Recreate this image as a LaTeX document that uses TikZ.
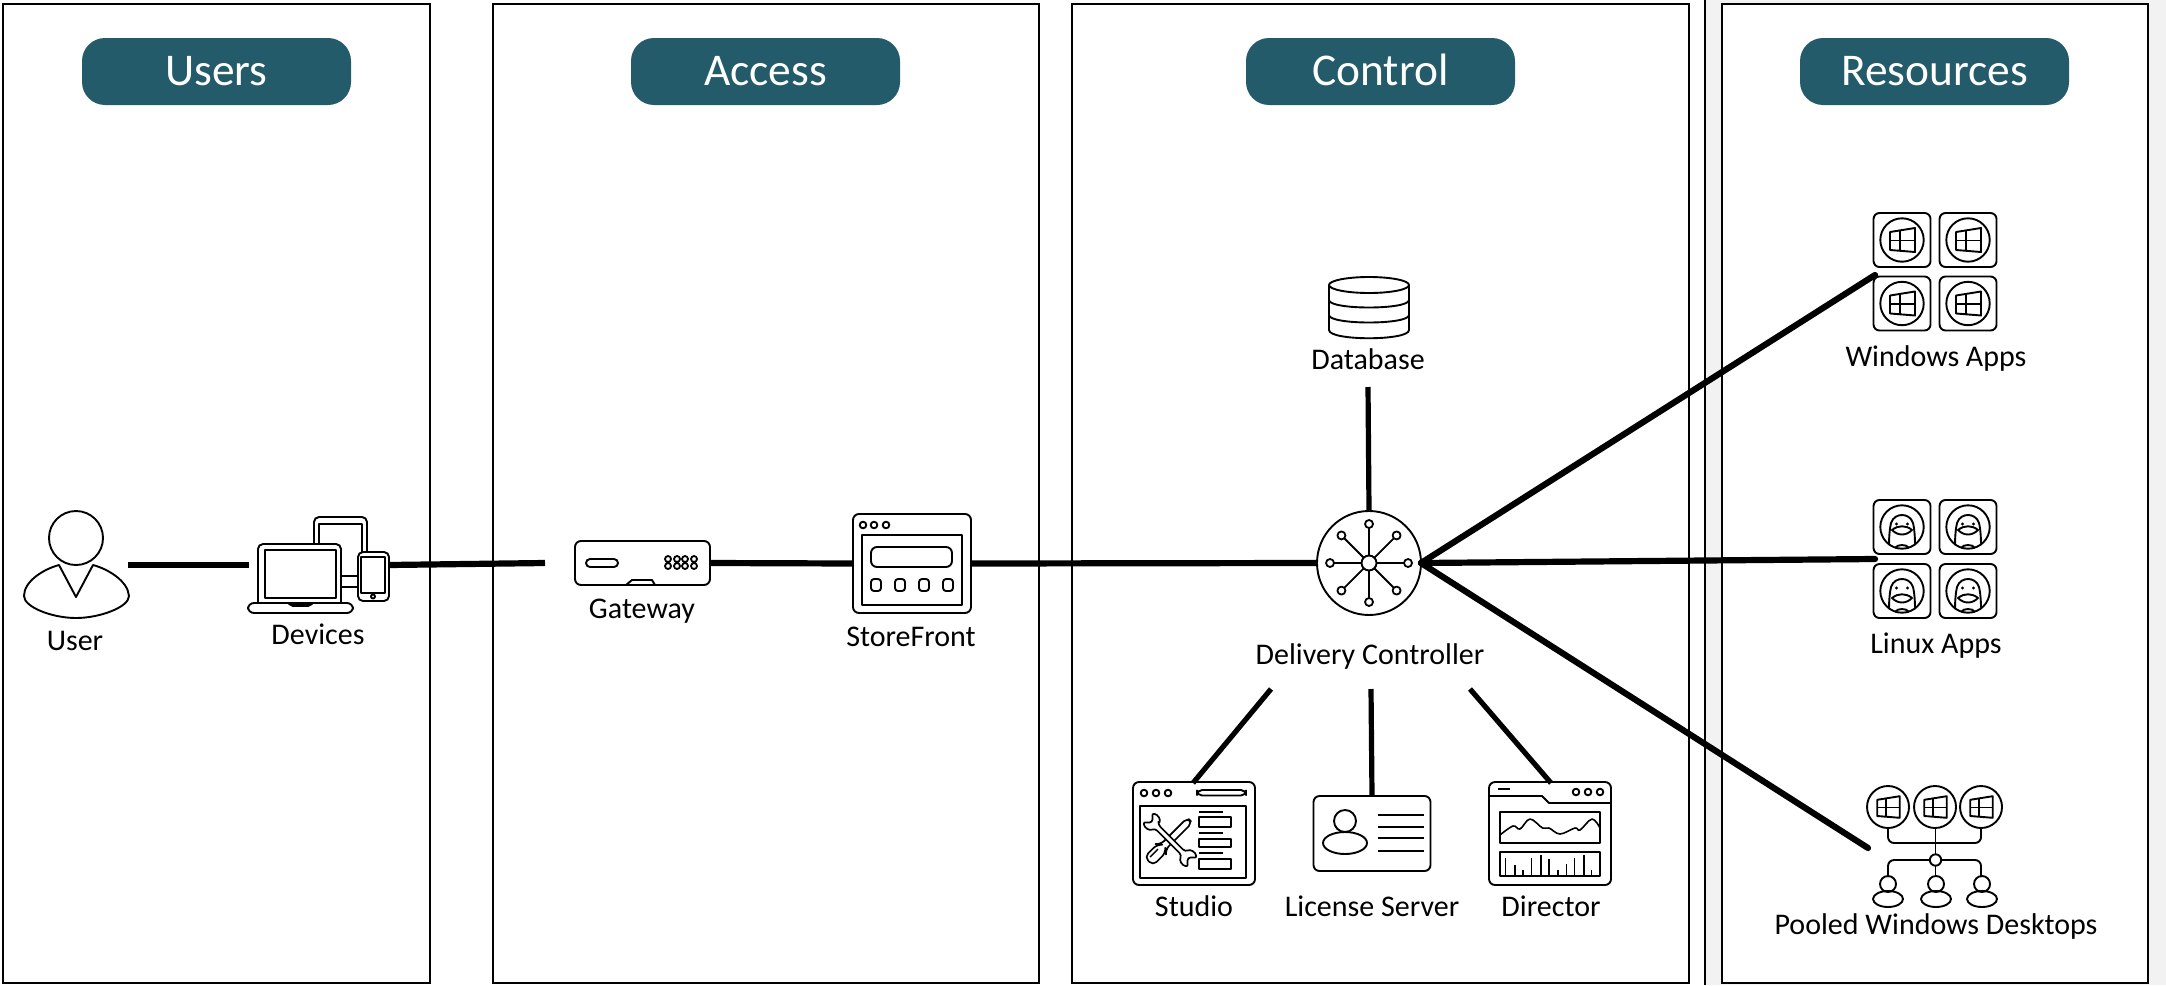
\documentclass[tikz,border=0pt]{standalone}
\usepackage{fontspec}
\setmainfont{Carlito}
\definecolor{teal1}{HTML}{245B6A}
\definecolor{gray1}{HTML}{F2F2F2}
\tikzset{
  panel/.style={draw=black,fill=white,line width=.8pt},
  pill/.style={fill=teal1,text=white,rounded corners=11.5pt,minimum width=134.5pt,minimum height=33.5pt,inner sep=0pt,text height=14.4pt,text depth=0pt,font=\fontsize{22.7}{26}\selectfont},
  lab/.style={inner sep=0pt,text height=9.5pt,text depth=0pt,font=\fontsize{15}{18}\selectfont,text=black},
  ic/.style={draw=black,line width=.95pt,line join=round},
  hit/.style 2 args={inner sep=0pt,outer sep=0pt,minimum width=#1*.5pt,minimum height=#2*.5pt},
  link/.style={draw=black,line width=3.1pt},
  linkb/.style={draw=black,line width=2.6pt},
  pics/winlogo/.style={code={
    \draw[ic] (-12,-8) -- (13,-12) -- (13,12) -- (-12,10) -- cycle;
    \draw[ic] (-2,-10) -- (-2,11) (-12,.5) -- (13,.5);
  }},
  pics/wintile/.style={code={
    \draw[ic,rounded corners=3pt] (-28.5,-27) rectangle (28.5,27);
    \draw[ic] (0,0) circle (21.7);
    \pic at (0,0) {winlogo};
  }},
  pics/tux/.style={code={
    \draw[ic,rounded corners=3pt] (-28.5,-27) rectangle (28.5,27);
    \draw[ic] (0,0) circle (21.7);
    \draw[ic] (-13,18) .. controls (-13,8) and (-12,0) .. (-11,-4) .. controls (-9,-10) and (-4,-12) .. (0,-12) .. controls (4,-12) and (9,-10) .. (11,-4) .. controls (12,0) and (13,8) .. (13,18);
    \fill (-5.5,-3) circle (1.7) (5.5,-3) circle (1.7);
    \draw[ic] (-10,#1) .. controls (-4,#1-5) and (4,#1-5) .. (10,#1) .. controls (4,#1+6) and (-4,#1+6) .. (-10,#1) -- cycle;
    \draw[ic] (-7,21) .. controls (-5,17) and (5,17) .. (7,21);
  }},
  pics/person/.style={code={
    \draw[ic] (0,0) circle (8);
    \draw[ic] (0,15) ellipse (15 and 8);
  }},
}
\begin{document}
\begin{tikzpicture}[x=.5pt,y=-.5pt]
\useasboundingbox (0,0) rectangle (2166,985);
% background and panels
\fill[gray1] (1706,0) rectangle (2166,985);
\draw[black,line width=.8pt] (1705,0) -- (1705,985);
\draw[panel] (3,4) rectangle (430,983);
\draw[panel] (493,4) rectangle (1039,983);
\draw[panel] (1072,4) rectangle (1689,983);
\draw[panel] (1722,4) rectangle (2148,983);
% headings
\node[pill] (tusers) at (216.5,71.5) {Users};
\node[pill] (taccess) at (765.5,71.5) {Access};
\node[pill] (tcontrol) at (1380.5,71.5) {Control};
\node[pill] (tresources) at (1934.5,71.5) {Resources};
\begin{scope}[shift={(0,1)}]
% user
\node[hit={107}{90},] (user) at (76,570) {};
\draw[ic] (76,537) circle (27);
\draw[ic] (59,564) -- (76,596) -- (93,564) .. controls (108,568) and (128,580) .. (129,595) .. controls (129,606) and (100,617) .. (76,617) .. controls (52,617) and (24,606) .. (24,595) .. controls (24,580) and (44,568) .. (59,564) -- cycle;
\node[lab] (luser) at (75,640) {User};
% devices
\node[hit={141}{96}] (devices) at (318.5,564) {};
\draw[ic,rounded corners=2.5pt] (314,543) -- (314,516) -- (367,516) -- (367,551);
\draw[ic] (319,543) -- (319,523) -- (362,523) -- (362,551);
\draw[ic] (341,575) -- (358,575) (341,586) -- (358,586);
\draw[ic,rounded corners=2.5pt,fill=white] (258,602) -- (258,543) -- (341,543) -- (341,602);
\draw[ic] (265,549) rectangle (336,597);
\draw[ic,rounded corners=3pt,fill=white] (248,602) rectangle (353,612);
\draw[ic,fill=black] (289,603) -- (312,603) -- (308,605) -- (293,605) -- cycle;
\draw[ic,rounded corners=2.5pt,fill=white] (358,551) rectangle (389,600);
\draw[ic] (361,556) rectangle (385,592);
\draw[ic] (373,595.5) circle (2);
\node[lab] (ldevices) at (318,634) {Devices};
% gateway
\node[ic,hit={135}{44},rounded corners=3pt] (gateway) at (642.5,562) {};
\draw[ic,rounded corners=2pt] (586,558) rectangle (618,566);
\foreach \px in {668,677,685,694}{\draw[ic,line width=.9pt] (\px,558) circle (3) (\px,565) circle (3);}
\draw[ic] (626,584) -- (632,579) -- (652,579) -- (655,584);
\node[lab] (lgateway) at (642,608) {Gateway};
% storefront
\node[ic,hit={118}{99},rounded corners=3pt] (storefront) at (912,562.5) {};
\draw[ic] (862,534) rectangle (962,604);
\foreach \px in {863,874,886}{\draw[ic] (\px,524) circle (3.3);}
\draw[ic,rounded corners=3pt] (871,546) rectangle (952,566);
\foreach \px in {871,895,919,943}{\draw[ic,rounded corners=1.5pt] (\px,578) rectangle (\px+10,590);}
\node[lab] (lstorefront) at (911,636) {StoreFront};
% database
\node[hit={80}{62}] (database) at (1369,306) {};
\draw[ic] (1369,284) ellipse (40 and 8);
\draw[ic] (1329,284) -- (1329,329) .. controls (1329,340) and (1409,340) .. (1409,329) -- (1409,284);
\draw[ic] (1329,299) .. controls (1329,309) and (1409,309) .. (1409,299);
\draw[ic] (1329,314) .. controls (1329,324) and (1409,324) .. (1409,314);
\node[lab] (ldatabase) at (1368,359) {Database};
% delivery controller
\node[ic,circle,hit={104}{104}] (controller) at (1369,562) {};
\foreach \a in {0,45,...,315}{
  \draw[ic,line width=.9pt] (controller.center) -- ++(\a:35);
  \draw[ic,line width=.9pt,fill=white] (controller.center) ++(\a:39) circle (4);
}
\draw[ic,fill=white] (controller.center) circle (7.5);
\node[lab] (lcontroller) at (1370,654) {Delivery Controller};
% studio
\node[ic,hit={122}{103},rounded corners=3pt] (studio) at (1194,832.5) {};
\draw[ic] (1140,805) rectangle (1246,877);
\foreach \px in {1144,1156,1168}{\draw[ic] (\px,792) circle (3.3);}
\draw[ic,rounded corners=2.5pt] (1197,789) rectangle (1246,794.5);
\draw[ic] (1199,816) rectangle (1231,826) (1199,838) rectangle (1231,846) (1199,858) rectangle (1231,868);
\draw[ic] (1199,811) -- (1223,811) (1199,832) -- (1223,832) (1199,852) -- (1223,852);
% screwdriver and wrench, in a frame turned by 45 degrees
\begin{scope}[shift={(1170,839)},x={(.354pt,-.354pt)},y={(.354pt,.354pt)}]
\draw[ic,fill=white,line width=.85pt,rounded corners=2.5pt] (-3.5,-10) -- (-6,-12) -- (-6,-30) -- (6,-30) -- (6,-12) -- (3.5,-10) -- (3.5,28) -- (-3.5,28) -- cycle;
\draw[ic,line width=.7pt] (-2,-26) -- (-2,-15);
\draw[ic,fill=white,line width=.85pt,rounded corners=1.5pt] (-19,2.5) -- (19,2.5) .. controls (21,8) and (26,9.5) .. (32,6) -- (26,2.5) -- (26,-2.5) -- (32,-6) .. controls (26,-9.5) and (21,-8) .. (19,-2.5) -- (-19,-2.5) .. controls (-21,-8) and (-26,-9.5) .. (-32,-6) -- (-26,-2.5) -- (-26,2.5) -- (-32,6) .. controls (-26,9.5) and (-21,8) .. (-19,2.5) -- cycle;
\end{scope}
\node[lab] (lstudio) at (1194,906) {Studio};
% license server
\node[ic,hit={117}{75},rounded corners=3pt] (license) at (1372,832.5) {};
\draw[ic] (1345,820) circle (11);
\draw[ic] (1345,842) ellipse (22 and 11);
\draw[ic] (1378,814) -- (1424,814) (1378,826) -- (1424,826) (1378,837) -- (1424,837) (1378,850) -- (1424,850);
\node[lab] (llicense) at (1372,906) {License Server};
% director
\node[ic,hit={122}{103},rounded corners=3pt] (director) at (1550,832.5) {};
\draw[ic] (1489,795) -- (1542,795) -- (1549,802) -- (1611,802);
\draw[ic] (1498,788) -- (1510,788);
\foreach \px in {1576,1588,1600}{\draw[ic] (\px,791) circle (3.3);}
\draw[ic] (1500,811) rectangle (1600,842) (1500,851) rectangle (1600,875);
\draw[ic,line width=.8pt] plot[smooth,tension=.6] coordinates {(1500,834) (1513,825) (1520,828) (1530,818) (1542.5,827) (1549,827) (1560,833) (1575,827) (1580,829) (1592,818) (1600,827)};
\foreach \px/\py in {1505.6/857,1515/864,1523/869,1531.5/857,1541/854,1549/858,1558/869,1566.6/863,1574.5/857,1584/854,1591.4/869}{\draw[ic,line width=.8pt] (\px,\py) -- (\px,875);}
\node[lab] (ldirector) at (1551,906) {Director};
% windows apps
\node[hit={123}{117}] (winapps) at (1934.5,271.5) {};
\pic at (1902,239) {wintile};
\pic at (1968,239) {wintile};
\pic at (1902,302.5) {wintile};
\pic at (1968,302.5) {wintile};
\node[lab] (lwinapps) at (1936,355.5) {Windows Apps};
% linux apps
\node[hit={123}{119}] (linuxapps) at (1934.5,558.5) {};
\pic at (1902,526) {tux={3}};
\pic at (1968,526) {tux={3}};
\pic at (1902,590) {tux={7}};
\pic at (1968,590) {tux={7}};
\node[lab] (llinuxapps) at (1936,643) {Linux Apps};
% pooled desktops
\node[hit={140}{130}] (pooled) at (1935,851) {};
\foreach \px in {1888,1935,1981}{\draw[ic] (\px,806) circle (21); \pic[scale=.9] at (\px,806) {winlogo};}
\draw[ic,rounded corners=3pt] (1888,827) -- (1888,842) -- (1981,842) -- (1981,827);
\draw[ic] (1935.5,827) -- (1935.5,853);
\draw[ic,rounded corners=3pt] (1888,876) -- (1888,859) -- (1981,859) -- (1981,876);
\draw[ic] (1935.5,865) -- (1935.5,876);
\draw[ic,fill=white] (1935.5,859) circle (5.7);
\foreach \px in {1888,1936,1982}{\pic at (\px,883) {person};}
\node[lab] (lpooled) at (1936,924) {Pooled Windows Desktops};
% connector ends
\coordinate (userout) at (128,564);
\coordinate (devin) at (249,564);
\coordinate (devout) at (389,564);
\coordinate (gwin) at (545,562);
\coordinate (dbout) at (1368,386);
\coordinate (cstudio) at (1271,688);
\coordinate (clicense) at (1371,688);
\coordinate (cdirector) at (1470,688);
\coordinate (estudio) at (1193,782);
\coordinate (edirector) at (1551,782);
\coordinate (ewin) at (1875,274);
\coordinate (elinux) at (1875,558);
\coordinate (epooled) at (1868,847);
\end{scope}
% connectors
\draw[link] (userout) -- (devin);
\draw[link] (devout) -- (gwin);
\draw[link] (gateway.east) -- (storefront.west);
\draw[link] (storefront.east) -- (controller.west);
\draw[linkb] (dbout) -- (controller.north);
\draw[linkb] (cstudio) -- (estudio);
\draw[linkb] (clicense) -- (license.north);
\draw[linkb] (cdirector) -- (edirector);
\draw[link,line cap=round] (controller.east) -- (ewin);
\draw[link,line cap=round] (controller.east) -- (elinux);
\draw[link,line cap=round] (controller.east) -- (epooled);
\end{tikzpicture}
\end{document}
